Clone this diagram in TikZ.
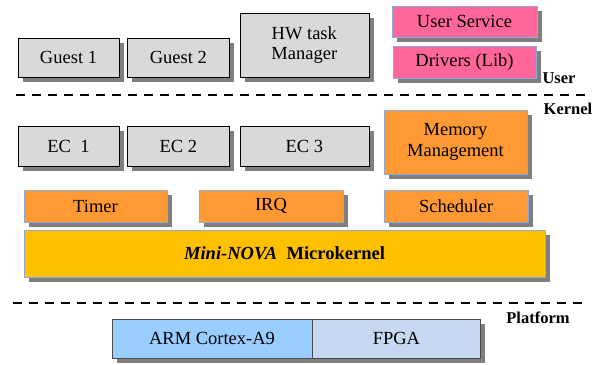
\documentclass[tikz,border=0pt]{standalone}
\usepackage{fontspec}
\setmainfont{LiberationSerif}[Extension=.ttf, UprightFont=*-Regular, BoldFont=*-Bold,
    ItalicFont=*-Italic, BoldItalicFont=*-BoldItalic]
\usepackage{tikz}
\usetikzlibrary{shadows}
\usetikzlibrary{positioning}
\definecolor{boxgrey}{HTML}{D9D9D9}
\definecolor{userpink}{HTML}{FF6699}
\definecolor{kernorange}{HTML}{FF9933}
\definecolor{kernyellow}{HTML}{FFC000}
\definecolor{armblue}{HTML}{99CCFF}
\definecolor{fpgablue}{HTML}{C6D9F1}
\definecolor{edgeblue}{HTML}{8EAADB}
\definecolor{shadowgrey}{HTML}{7F7F7F}
\tikzstyle{base} = [rectangle, inner sep=0pt, font=\fontsize{18.5}{20.5}\selectfont,
    align=center, drop shadow={shadow xshift=5pt, shadow yshift=-5pt, fill=shadowgrey, opacity=1}]
\tikzstyle{guest} = [base, draw=black, fill=boxgrey, minimum width=101pt, minimum height=39pt]
\tikzstyle{usersvc} = [base, draw=edgeblue, fill=userpink, minimum width=145pt, minimum height=31pt]
\tikzstyle{kern} = [base, draw=edgeblue, fill=kernorange, minimum width=144pt, minimum height=32pt]
\tikzstyle{plat} = [base, draw=black!70, minimum height=39pt]
\tikzstyle{layer} = [font=\fontsize{16.5}{18}\selectfont\bfseries, inner sep=0pt]
\tikzstyle{line} = [draw, dashed, line width=1.5pt, dash pattern=on 9pt off 7pt]

\begin{document}
\begin{tikzpicture}[x=1pt,y=-1pt]
    \useasboundingbox (0,0) rectangle (602,364);
    % User level
    \node[guest] (guest1) at (68.5,57.5) {Guest 1};
    \node[guest, right=8pt of guest1, minimum width=102pt] (guest2) {Guest 2};
    \node[guest, right=10pt of guest2.south east, anchor=south west,
        minimum width=129pt, minimum height=64pt] (hwtask) {HW task\\Manager};
    \node[usersvc] (usersvc) at (464.5,21.5) {User Service};
    \node[usersvc, below=9pt of usersvc, minimum width=143pt, minimum height=32pt] (drivers) {Drivers (Lib)};
    \node[layer] (user) at (559,78) {User};
    % Kernel level
    \node[guest, minimum height=40pt] (ec1) at (68.5,146) {EC\ \ 1};
    \node[guest, right=8pt of ec1, minimum width=102pt, minimum height=40pt] (ec2) {EC 2};
    \node[guest, right=10pt of ec2, minimum width=129pt, minimum height=40pt] (ec3) {EC 3};
    \node[kern, minimum width=143pt, minimum height=64pt] (memory) at (455.5,142) {Memory\\Management};
    \node[layer] (kernel) at (568,109) {Kernel};
    \node[kern, minimum width=143pt] (timer) at (95.5,206) {Timer};
    \node[kern] (irq) at (271,206) {IRQ};
    \node[kern] (sched) at (456,206) {Scheduler};
    \node[base, draw=edgeblue, fill=kernyellow, minimum width=521pt, minimum height=47pt]
        (micro) at (284.5,253.5) {\textbf{\textit{Mini-NOVA}}\ \ \textbf{Microkernel}};
    % Platform level
    \node[plat, fill=armblue, minimum width=200pt] (arm) at (212,338.5) {ARM Cortex-A9};
    \node[plat, fill=fpgablue, minimum width=168pt, right=0pt of arm] (fpga) {FPGA};
    \node[layer] (platform) at (538,318) {Platform};
    % Separators
    \coordinate (sepa) at (16,95);
    \coordinate (sepb) at (585,95);
    \coordinate (sepc) at (13,303);
    \coordinate (sepd) at (583,303);
    \path [line] (sepa) -- (sepb);
    \path [line] (sepc) -- (sepd);
\end{tikzpicture}
\end{document}
